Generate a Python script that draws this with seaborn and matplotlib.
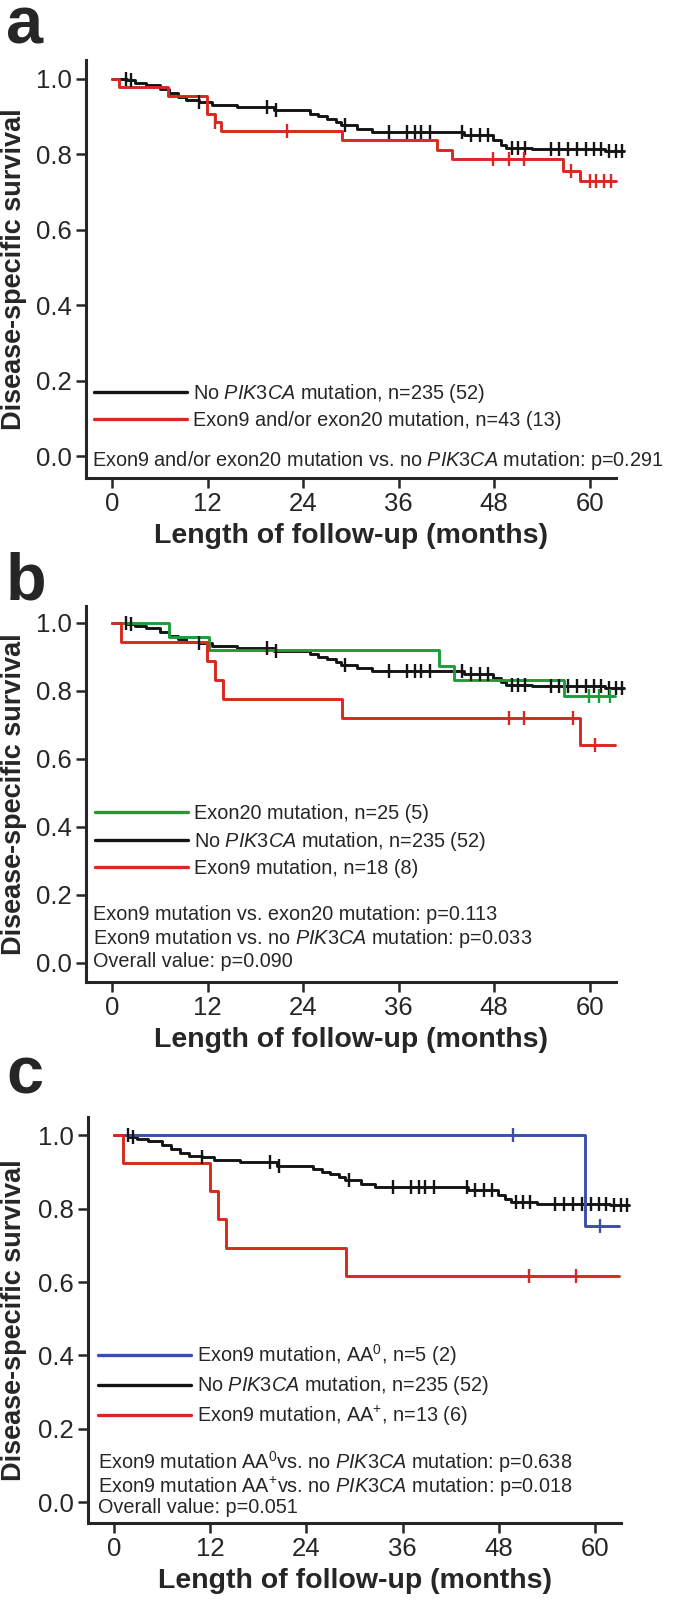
import numpy as np
import pandas as pd
import matplotlib
matplotlib.use('Agg')
import matplotlib.pyplot as plt
import matplotlib.transforms as mtransforms
from matplotlib import font_manager
from matplotlib.lines import Line2D
import seaborn as sns

# ---- data (months, survival) ----
# no PIK3CA mutation, n=235 (52) -- same curve in all three panels
none_t = [0, 1.8, 2.8, 4.2, 6.0, 7.1, 8.2, 9.3, 10.9, 12.5, 15.7, 20.3, 24.8, 25.9, 27.0,
          28.1, 28.8, 30.8, 32.6, 44.2, 47.9, 48.8, 49.5, 52.8, 61.9, 64.3]
none_s = [1.0, 0.996, 0.99, 0.985, 0.974, 0.962, 0.953, 0.945, 0.94, 0.932, 0.926, 0.917, 0.908,
          0.901, 0.895, 0.886, 0.877, 0.868, 0.86, 0.851, 0.838, 0.826, 0.818, 0.813, 0.809, 0.809]
none_cens = [1.7, 2.3, 10.9, 19.5, 20.6, 29.3, 34.8, 37.0, 38.0, 38.8, 39.9, 44.0, 45.1, 46.2,
             47.2, 50.2, 51.0, 51.9, 55.1, 56.2, 57.3, 58.4, 59.5, 60.5, 61.4, 62.4, 63.3, 64.1]

# panel a: exon9 and/or exon20 mutation, n=43 (13)
any_t = [0, 0.8, 7.0, 11.9, 12.9, 13.7, 28.9, 40.8, 42.7, 56.7, 58.8, 63.3]
any_s = [1.0, 0.979, 0.955, 0.908, 0.885, 0.861, 0.837, 0.811, 0.787, 0.757, 0.729, 0.729]
any_cens = [12.9, 22.0, 47.8, 49.8, 51.7, 57.7, 60.0, 60.8, 61.8, 62.7]

# panel b: exon20 mutation n=25 (5), exon9 mutation n=18 (8)
ex20_t = [0, 7.1, 12.1, 41.0, 42.9, 56.8, 63.2]
ex20_s = [1.0, 0.96, 0.919, 0.874, 0.831, 0.784, 0.784]
ex20_cens = [59.9, 61.2, 62.6]
ex9_t = [0, 1.1, 11.9, 12.9, 13.9, 28.9, 58.8, 63.2]
ex9_s = [1.0, 0.943, 0.889, 0.833, 0.777, 0.72, 0.641, 0.641]
ex9_cens = [49.9, 51.8, 57.9, 60.7]

# panel c: exon9 AA0 n=5 (2), exon9 AA+ n=13 (6)
aa0_t = [0, 58.8, 63.1]
aa0_s = [1.0, 0.752, 0.752]
aa0_cens = [49.8, 60.7]
aap_t = [0, 1.1, 12.0, 13.0, 14.0, 28.9, 63.1]
aap_s = [1.0, 0.925, 0.848, 0.771, 0.694, 0.617, 0.617]
aap_cens = [51.8, 57.7]

x_ticks = [0, 12, 24, 36, 48, 60]
y_ticks = [0.0, 0.2, 0.4, 0.6, 0.8, 1.0]

BLACK, RED, GREEN, BLUE = '#141414', '#d8281f', '#1d9c3a', '#3b4fa8'

# ---- style ----
sns.set_style('ticks')
names = {f.name for f in font_manager.fontManager.ttflist}
narrow = 'Liberation Sans Narrow' if 'Liberation Sans Narrow' in names else 'Liberation Sans'
txt_size = 16 if narrow == 'Liberation Sans Narrow' else 14.3
plt.rcParams['font.family'] = ['Liberation Sans', 'DejaVu Sans']
plt.rcParams['mathtext.fontset'] = 'custom'
plt.rcParams['mathtext.rm'] = narrow
plt.rcParams['mathtext.it'] = narrow + ':italic'
plt.rcParams['mathtext.bf'] = narrow + ':bold'

fig = plt.figure(figsize=(6.75, 16.07), dpi=100)
W, H = 675, 1607


def add_ax(left, right, top, bottom):
    return fig.add_axes([left / W, 1 - bottom / H, (right - left) / W, (bottom - top) / H])


def km(ax, curves, leg_y, leg_x, ptexts, p_x):
    rows = []
    for name, t, s, c, col in curves:
        rows += [(name, ti, si) for ti, si in zip(t, s)]
    df = pd.DataFrame(rows, columns=['group', 'time', 'surv'])
    pal = {name: col for name, t, s, c, col in curves}
    sns.lineplot(data=df, x='time', y='surv', hue='group', palette=pal, estimator=None,
                 sort=False, drawstyle='steps-post', linewidth=2.1, legend=False,
                 ax=ax, clip_on=False)
    for name, t, s, c, col in curves:
        idx = np.searchsorted(t, c, side='right') - 1
        cy = np.asarray(s)[idx]
        sns.scatterplot(x=c, y=cy, marker='|', s=110, linewidth=1.7, color=col,
                        ax=ax, clip_on=False, zorder=4)
    ax.set_xlim(-3.3, 63.3)
    ax.set_ylim(-0.057, 1.05)
    ax.set_xticks(x_ticks)
    ax.set_yticks(y_ticks)
    ax.set_yticklabels(['%.1f' % v for v in y_ticks])
    ax.tick_params(direction='out', length=7, width=1.8, labelsize=18.5, pad=3)
    for sp in ['left', 'bottom']:
        ax.spines[sp].set_linewidth(2.2)
    sns.despine(ax=ax)
    ax.set_xlabel('Length of follow-up (months)', fontsize=20.5, fontweight='bold', labelpad=5)
    ax.set_ylabel('Disease-specific survival', fontsize=19.5, fontweight='bold')
    ax.yaxis.set_label_coords(27 / W, 0.5,
                              transform=mtransforms.blended_transform_factory(fig.transFigure, ax.transAxes))
    handles = [Line2D([], [], color=col, lw=2.4) for name, t, s, c, col in curves]
    labels = [name for name, t, s, c, col in curves]
    order = leg_y[1]
    trans = mtransforms.blended_transform_factory(ax.transAxes, ax.transData)
    ax.legend([handles[i] for i in order], [labels[i] for i in order], loc='center left',
              bbox_to_anchor=(leg_x, leg_y[0]), bbox_transform=trans, frameon=False,
              prop={'family': narrow, 'size': txt_size}, handlelength=4.7,
              handletextpad=0.3, labelspacing=0.33, borderpad=0, borderaxespad=0)
    for y, s in ptexts:
        ax.text(p_x, y, s, transform=trans, fontsize=txt_size, family=narrow, va='center')


lab_none = 'No $\\mathit{PIK3CA}$ mutation, n=235 (52)'

ax_a = add_ax(86, 616, 60, 478)
km(ax_a,
   [(lab_none, none_t, none_s, none_cens, BLACK),
    ('Exon9 and/or exon20 mutation, n=43 (13)', any_t, any_s, any_cens, RED)],
   (0.1335, [0, 1]), 0.015,
   [(-0.01, 'Exon9 and/or exon20 mutation vs. no $\\mathit{PIK3CA}$ mutation: p=0.291')], 0.011)

ax_b = add_ax(86, 616, 606, 982)
km(ax_b,
   [(lab_none, none_t, none_s, none_cens, BLACK),
    ('Exon20 mutation, n=25 (5)', ex20_t, ex20_s, ex20_cens, GREEN),
    ('Exon9 mutation, n=18 (8)', ex9_t, ex9_s, ex9_cens, RED)],
   (0.358, [1, 0, 2]), 0.017,
   [(0.142, 'Exon9 mutation vs. exon20 mutation: p=0.113'),
    (0.071, 'Exon9 mutation vs. no $\\mathit{PIK3CA}$ mutation: p=0.033'),
    (0.003, 'Overall value: p=0.090')], 0.013)

ax_c = add_ax(88, 621, 1117, 1523)
km(ax_c,
   [(lab_none, none_t, none_s, none_cens, BLACK),
    ('Exon9 mutation, AA$^{0}$, n=5 (2)', aa0_t, aa0_s, aa0_cens, BLUE),
    ('Exon9 mutation, AA$^{+}$, n=13 (6)', aap_t, aap_s, aap_cens, RED)],
   (0.319, [1, 0, 2]), 0.019,
   [(0.108, 'Exon9 mutation AA$^{0}$vs. no $\\mathit{PIK3CA}$ mutation: p=0.638'),
    (0.042, 'Exon9 mutation AA$^{+}$vs. no $\\mathit{PIK3CA}$ mutation: p=0.018'),
    (-0.016, 'Overall value: p=0.051')], 0.019)

for letter, base in [('a', 44), ('b', 600), ('c', 1094)]:
    fig.text(6 / W, 1 - base / H, letter, fontsize=48, fontweight='bold', va='baseline')

fig.savefig('out.png', dpi=100)
